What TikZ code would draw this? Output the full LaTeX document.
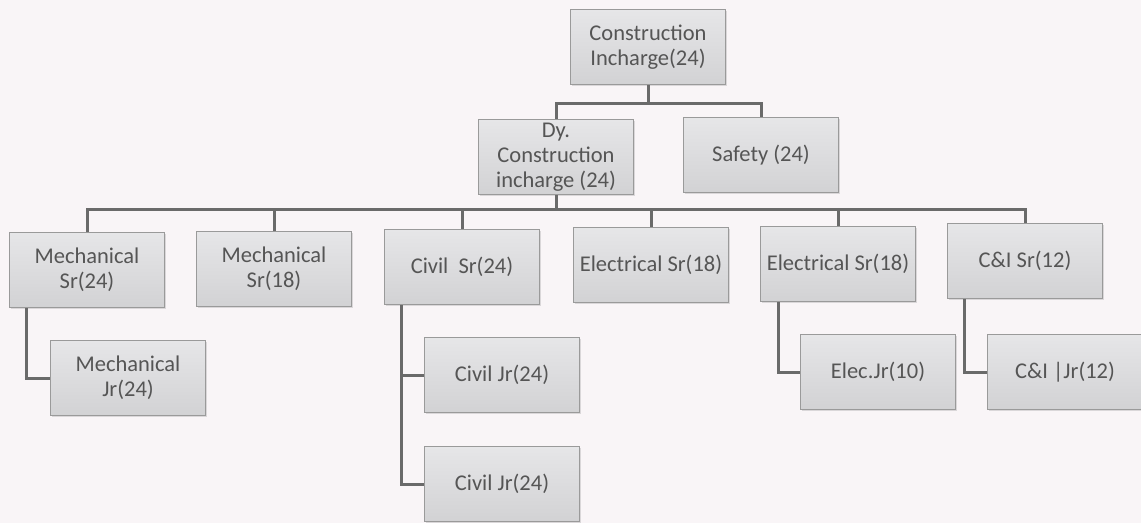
\documentclass[tikz,border=0pt]{standalone}
\usepackage{fontspec}
\setmainfont{Carlito}
\usetikzlibrary{shadows}
\definecolor{bg}{HTML}{F9F5F7}
\definecolor{linec}{HTML}{6A6A6A}
\definecolor{boxtop}{HTML}{E6E6E8}
\definecolor{boxbot}{HTML}{D2D2D4}
\definecolor{boxline}{HTML}{9A9A9A}
\definecolor{txt}{HTML}{555555}
\tikzset{
  orgbox/.style={rectangle, draw=boxline, line width=1pt, top color=boxtop, bottom color=boxbot,
    minimum width=155pt, minimum height=75pt, align=center, text=txt,
    font=\fontsize{22.5}{25}\selectfont, inner sep=1pt,
    drop shadow={opacity=0.25, shadow xshift=1.5pt, shadow yshift=-1.5pt}},
  conn/.style={draw=linec, line width=3pt}
}
\begin{document}
\begin{tikzpicture}[x=1pt,y=-1pt]
\useasboundingbox[fill=bg] (0,0) rectangle (1141,523);
% nodes
\node[orgbox] (ci) at (648,47) {Construction\\Incharge(24)};
\node[orgbox] (dy) at (556,157) {Dy.\\Construction\\incharge (24)};
\node[orgbox] (sf) at (761,155) {Safety (24)};
\node[orgbox] (m1) at (87,270) {Mechanical\\Sr(24)};
\node[orgbox] (m2) at (274,269) {Mechanical\\Sr(18)};
\node[orgbox] (cv) at (462,267) {Civil~~Sr(24)};
\node[orgbox] (e1) at (651,265) {Electrical Sr(18)};
\node[orgbox] (e2) at (838,264) {Electrical Sr(18)};
\node[orgbox] (cs) at (1025,261) {C\&I Sr(12)};
\node[orgbox] (mj) at (128,378) {Mechanical\\Jr(24)};
\node[orgbox] (cj1) at (502,375) {Civil Jr(24)};
\node[orgbox] (cj2) at (502,484) {Civil Jr(24)};
\node[orgbox] (ej) at (878,372) {Elec.Jr(10)};
\node[orgbox] (cij) at (1065,372) {C\&I |Jr(12)};
% bus coordinates
\coordinate (b1) at ([yshift=-18pt]ci.south);
\coordinate (b2) at ([yshift=-14pt]dy.south);
\coordinate (vm) at ([xshift=17pt]m1.south west);
\coordinate (vc) at ([xshift=17pt]cv.south west);
\coordinate (ve) at ([xshift=18pt]e2.south west);
\coordinate (vs) at ([xshift=17pt]cs.south west);
% connectors
\draw[conn] (ci.south) -- (b1);
\draw[conn] (dy.north) |- (b1) -| (sf.north);
\draw[conn] (dy.south) -- (b2);
\draw[conn] (m1.north) |- (b2) -| (cs.north);
\draw[conn] (m2.north) -- (m2.north |- b2);
\draw[conn] (cv.north) -- (cv.north |- b2);
\draw[conn] (e1.north) -- (e1.north |- b2);
\draw[conn] (e2.north) -- (e2.north |- b2);
\draw[conn] (vm) |- (mj.west);
\draw[conn] (vc) |- (cj1.west);
\draw[conn] (vc) |- (cj2.west);
\draw[conn] (ve) |- (ej.west);
\draw[conn] (vs) |- (cij.west);
\end{tikzpicture}
\end{document}
